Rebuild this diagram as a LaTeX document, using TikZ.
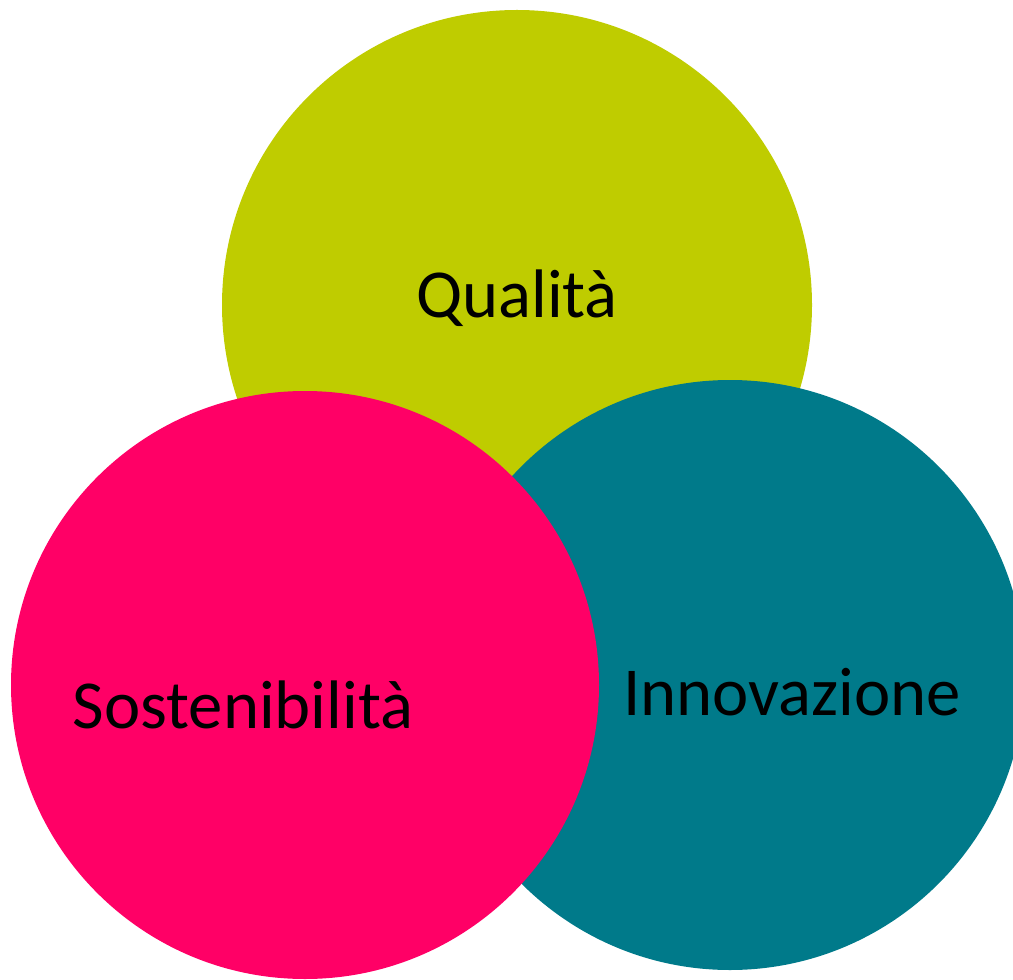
\documentclass[tikz,border=0pt]{standalone}
\usepackage{fontspec}
\setmainfont{Carlito}
\usepackage{tikz}

\definecolor{qualcol}{RGB}{191,204,0}
\definecolor{innocol}{RGB}{0,122,138}
\definecolor{sostcol}{RGB}{255,0,102}

\begin{document}
\begin{tikzpicture}[x=0.75pt,y=0.75pt,yscale=-1,xscale=1]
			\useasboundingbox (0,0) rectangle (1013,980);
			\clip (0,0) rectangle (1013,980);
			%Shape: Circle [id:qualita]
			\draw [fill=qualcol, draw=none] (517,305) circle [radius=295];
			%Shape: Circle [id:innovazione]
			\draw [fill=innocol, draw=none] (730,675) circle [radius=295];
			%Shape: Circle [id:sostenibilita]
			\draw [fill=sostcol, draw=none] (305,685) circle [radius=294];
			% Text Node
			\draw (517,298) node [inner sep=0.75pt] (tq) {\fontsize{51.5}{60}\selectfont Qualità};
			% Text Node
			\draw (792,692) node [inner sep=0.75pt] (ti) {\fontsize{51.5}{60}\selectfont Innovazione};
			% Text Node
			\draw (243,705) node [inner sep=0.75pt] (ts) {\fontsize{51.5}{60}\selectfont Sostenibilità};
		\end{tikzpicture}
\end{document}
